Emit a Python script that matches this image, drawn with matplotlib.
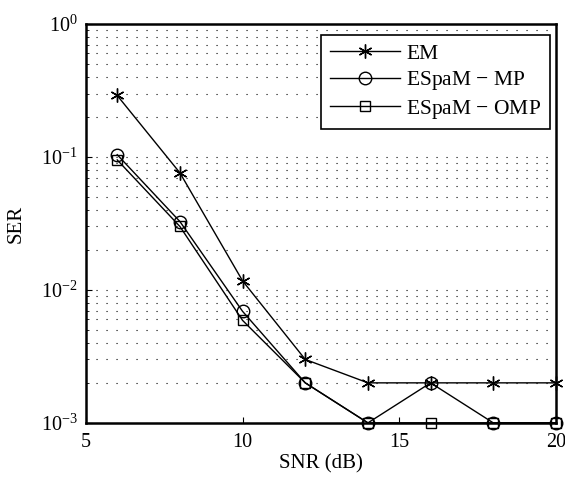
import numpy as np
import matplotlib
matplotlib.use('Agg')
import matplotlib.pyplot as plt

# data
snr = [6, 8, 10, 12, 14, 16, 18, 20]
ser_em = [0.29, 0.076, 0.0117, 0.003, 0.002, 0.002, 0.002, 0.002]
ser_mp = [0.104, 0.0327, 0.0069, 0.002, 0.001, 0.002, 0.001, 0.001]
ser_omp = [0.095, 0.030, 0.0059, 0.002, 0.001, 0.001, 0.001, 0.001]

plt.rcParams['font.family'] = ['Liberation Serif', 'DejaVu Serif']
plt.rcParams['mathtext.fontset'] = 'custom'
plt.rcParams['mathtext.rm'] = 'Liberation Serif'
plt.rcParams['mathtext.it'] = 'Liberation Serif:italic'
plt.rcParams['xtick.direction'] = 'in'
plt.rcParams['ytick.direction'] = 'in'

fig = plt.figure(figsize=(5.65, 4.8), dpi=100)
ax = fig.add_axes([0.152, 0.119, 0.832, 0.831])

ax.semilogy(snr, ser_em, '-', color='black', lw=1, marker=(6, 2, 0), ms=10,
            mew=1, label='EM', clip_on=False, zorder=3)
ax.semilogy(snr, ser_mp, '-', color='black', lw=1, marker='o', ms=9,
            mfc='none', mew=1, label='ESpaM $-$ MP', clip_on=False, zorder=3)
ax.semilogy(snr, ser_omp, '-', color='black', lw=1, marker='s', ms=7,
            mfc='none', mew=1, label='ESpaM $-$ OMP', clip_on=False, zorder=3)

ax.set_xlim(5, 20)
ax.set_ylim(1e-3, 1)
ax.set_xticks([5, 10, 15, 20])
ax.set_yticks([1e-3, 1e-2, 1e-1, 1])
ax.set_yticklabels(['$10^{-3}$', '$10^{-2}$', '$10^{-1}$', '$10^{0}$'])
ax.tick_params(labelsize=14.5, length=4, width=0.8)
ax.tick_params(axis='y', pad=6)
ax.tick_params(axis='x', pad=7)
ax.tick_params(which='minor', length=2)
ax.grid(True, which='both', axis='y', linestyle=(0, (1, 8)), color='black', lw=0.8)
for s in ax.spines.values():
    s.set_linewidth(1.8)

ax.set_xlabel('SNR (dB)', fontsize=15, labelpad=2)
ax.set_ylabel('SER', fontsize=15, labelpad=11)

leg = ax.legend(loc='upper right', fontsize=15.5, fancybox=False, framealpha=1,
                edgecolor='black', handlelength=3.25, borderpad=0.4,
                labelspacing=0.25, handletextpad=0.3, borderaxespad=0,
                bbox_to_anchor=(0.987, 0.972))
leg.get_frame().set_linewidth(1.2)

fig.savefig('out.png', dpi=100)
